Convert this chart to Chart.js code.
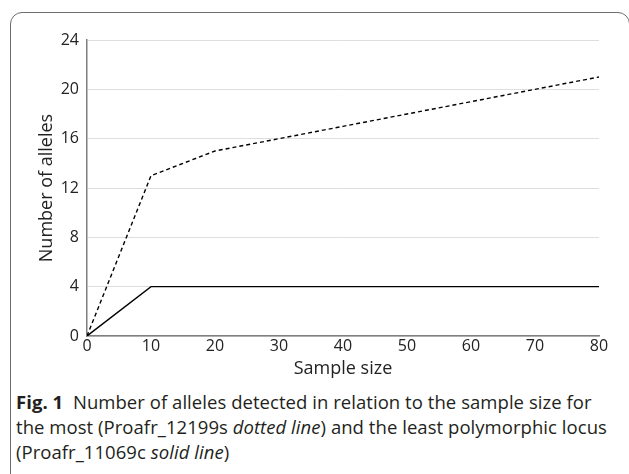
<!DOCTYPE html>
<html>
<head>
<meta charset="utf-8">
<script src="https://cdn.jsdelivr.net/npm/chart.js@4/dist/chart.umd.min.js"></script>
<style>
  html, body { margin: 0; padding: 0; background: #fff; overflow: hidden; }
  body { width: 629px; height: 474px; position: relative; }
  #frame {
    position: absolute; left: 10px; top: 12px; width: 620px; height: 500px;
    border: 1.5px solid #6d6d6d; border-radius: 12px 12px 0 0; box-sizing: border-box;
  }
  #wrap { position: absolute; left: 0; top: 0; width: 629px; height: 380px; }
  #caption {
    position: absolute; left: 16px; top: 389px; width: 620px;
    font-family: "Open Sans", sans-serif; font-size: 18.5px; line-height: 25px;
    color: #231f20; letter-spacing: 0.05px; white-space: nowrap;
  }
  #caption b { font-weight: 700; }
</style>
</head>
<body>
<div id="frame"></div>
<div id="wrap"><canvas id="chart-alleles"></canvas></div>
<div id="caption">
  <b>Fig. 1</b>&nbsp;&nbsp;Number of alleles detected in relation to the sample size for<br>
  the most (Proafr_12199s <i>dotted line</i>) and the least polymorphic locus<br>
  (Proafr_11069c <i>solid line</i>)
</div>
<script>
// sample sizes and allele counts
var sampleSizes = [0, 10, 20, 30, 40, 50, 60, 70, 80];
var allelesMost = [0, 13, 15, 16, 17, 18, 19, 20, 21];   // Proafr_12199s (dotted)
var allelesLeast = [0, 4, 4, 4, 4, 4, 4, 4, 4];          // Proafr_11069c (solid)

function toPoints(xs, ys) {
  return xs.map(function (x, i) { return { x: x, y: ys[i] }; });
}

var tickFont = { family: "'Open Sans', sans-serif", size: 16 };
var titleFont = { family: "'Open Sans', sans-serif", size: 18 };

var ctx = document.getElementById("chart-alleles").getContext('2d');
var myChart = new Chart(ctx, {
    type: 'line',
    data: {
        datasets: [{
            label: 'Proafr_12199s',
            data: toPoints(sampleSizes, allelesMost),
            borderColor: '#000',
            borderWidth: 1.4,
            borderDash: [4, 3],
            pointRadius: 0,
            tension: 0,
            fill: false
        }, {
            label: 'Proafr_11069c',
            data: toPoints(sampleSizes, allelesLeast),
            borderColor: '#000',
            borderWidth: 1.4,
            pointRadius: 0,
            tension: 0,
            fill: false
        }]},
    options: {
      responsive: true,
      maintainAspectRatio: false,
      animation: false,
      layout: { padding: { top: 40, right: 30, left: 36, bottom: 0 } },
      plugins: { legend: { display: false }, tooltip: { enabled: false } },
      scales: {
        x: {
          type: 'linear', min: 0, max: 80,
          ticks: { stepSize: 10, color: '#222', font: tickFont, padding: 1 },
          grid: { display: false, drawTicks: false, tickLength: 0 },
          border: { color: '#7f7f7f', width: 1.5 },
          title: { display: true, text: 'Sample size', color: '#222', font: titleFont, padding: { top: 0, bottom: 0 } },
          afterFit: function (scale) { scale.height = 44; }
        },
        y: {
          min: 0, max: 24,
          ticks: { stepSize: 4, color: '#222', font: tickFont, padding: 8 },
          grid: { color: '#dedede', drawTicks: false },
          border: { color: '#7f7f7f', width: 1.5 },
          title: { display: true, text: 'Number of alleles', color: '#222', font: titleFont, padding: 0 },
          afterFit: function (scale) { scale.width = 51; }
        }
      }
    }
});
</script>
</body>
</html>
